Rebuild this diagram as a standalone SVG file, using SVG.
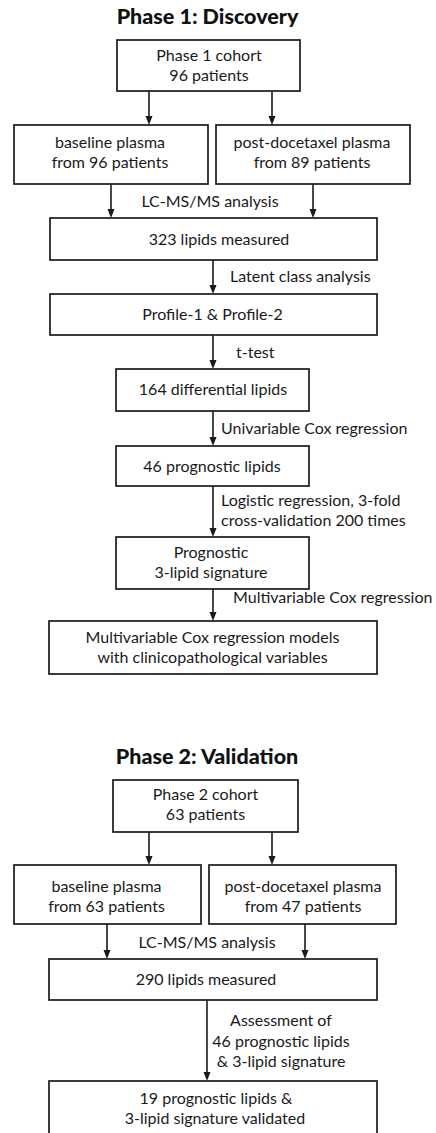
<svg xmlns="http://www.w3.org/2000/svg" width="436" height="1133" viewBox="0 0 436 1133">
<defs>
<marker id="ah" markerUnits="userSpaceOnUse" markerWidth="9" markerHeight="8" refX="4" refY="4" orient="auto">
<path d="M0,0.5 L9,4 L0,7.5 z" fill="#1a1a1a"/>
</marker>
</defs>
<style>
.box{fill:#fff;stroke:#1a1a1a;stroke-width:1.7}
.t{font-family:Lato,"Liberation Sans",sans-serif;font-size:16px;fill:#1a1a1a;text-anchor:middle}
.l{font-family:Lato,"Liberation Sans",sans-serif;font-size:16px;fill:#1a1a1a}
.h{font-family:Lato,"Liberation Sans",sans-serif;font-size:21.5px;font-weight:900;fill:#111;text-anchor:middle}
.c line{stroke:#1a1a1a;stroke-width:1.6;marker-end:url(#ah)}
</style>
<rect width="436" height="1133" fill="#fff"/>

<text class="h" x="207.5" y="24">Phase 1: Discovery</text>
<text class="h" x="207" y="764">Phase 2: Validation</text>

<g class="c" id="connectors">
<line x1="149" y1="91" x2="149" y2="120"/>
<line x1="272" y1="91" x2="272" y2="120"/>
<line x1="111" y1="184" x2="111" y2="213"/>
<line x1="313" y1="184" x2="313" y2="213"/>
<line x1="213" y1="260" x2="213" y2="289"/>
<line x1="213" y1="335" x2="213" y2="364"/>
<line x1="213" y1="411" x2="213" y2="441"/>
<line x1="213" y1="486" x2="213" y2="532"/>
<line x1="213" y1="589" x2="213" y2="616"/>
<line x1="149" y1="832" x2="149" y2="860"/>
<line x1="272" y1="832" x2="272" y2="860"/>
<line x1="107" y1="924" x2="107" y2="954"/>
<line x1="305" y1="924" x2="305" y2="954"/>
<line x1="207" y1="1000" x2="207" y2="1076"/>
</g>

<g id="labels">
<text class="t" x="210" y="207">LC-MS/MS analysis</text>
<text class="l" x="230" y="282">Latent class analysis</text>
<text class="l" x="236" y="358">t-test</text>
<text class="l" x="221" y="434">Univariable Cox regression</text>
<text class="l" x="221" y="506">Logistic regression, 3-fold</text>
<text class="l" x="221" y="526">cross-validation 200 times</text>
<text class="l" x="233" y="603">Multivariable Cox regression</text>
<text class="t" x="207" y="948">LC-MS/MS analysis</text>
<text class="t" x="281" y="1026">Assessment of</text>
<text class="t" x="281" y="1046.5">46 prognostic lipids</text>
<text class="t" x="281" y="1067">&amp; 3-lipid signature</text>
</g>

<g id="p1-cohort"><rect class="box" x="117" y="40" width="183" height="51"/>
<text class="t" x="209" y="61">Phase 1 cohort</text><text class="t" x="209" y="81">96 patients</text></g>
<g id="p1-baseline"><rect class="box" x="14" y="125" width="194" height="59"/>
<text class="t" x="110" y="148">baseline plasma</text><text class="t" x="110" y="168">from 96 patients</text></g>
<g id="p1-post"><rect class="box" x="216" y="125" width="194" height="59"/>
<text class="t" x="312" y="148">post-docetaxel plasma</text><text class="t" x="312" y="168">from 89 patients</text></g>
<g id="p1-measured"><rect class="box" x="50" y="218" width="327" height="42"/>
<text class="t" x="219" y="245">323 lipids measured</text></g>
<g id="p1-profile"><rect class="box" x="50" y="294" width="327" height="41"/>
<text class="t" x="212.5" y="320">Profile-1 &amp; Profile-2</text></g>
<g id="p1-diff"><rect class="box" x="116" y="369" width="193" height="42"/>
<text class="t" x="213" y="395">164 differential lipids</text></g>
<g id="p1-prog"><rect class="box" x="116" y="446" width="193" height="40"/>
<text class="t" x="212" y="472">46 prognostic lipids</text></g>
<g id="p1-sig"><rect class="box" x="116" y="537" width="193" height="52"/>
<text class="t" x="211" y="558">Prognostic</text><text class="t" x="211" y="578">3-lipid signature</text></g>
<g id="p1-models"><rect class="box" x="49" y="621" width="328" height="53"/>
<text class="t" x="212.5" y="643">Multivariable Cox regression models</text><text class="t" x="212.5" y="663">with clinicopathological variables</text></g>

<g id="p2-cohort"><rect class="box" x="113" y="780" width="185" height="52"/>
<text class="t" x="205.5" y="800">Phase 2 cohort</text><text class="t" x="205.5" y="820">63 patients</text></g>
<g id="p2-baseline"><rect class="box" x="14" y="865" width="187" height="59"/>
<text class="t" x="106.5" y="892">baseline plasma</text><text class="t" x="106.5" y="912">from 63 patients</text></g>
<g id="p2-post"><rect class="box" x="209" y="865" width="187" height="59"/>
<text class="t" x="303" y="892">post-docetaxel plasma</text><text class="t" x="303" y="912">from 47 patients</text></g>
<g id="p2-measured"><rect class="box" x="49" y="959" width="328" height="41"/>
<text class="t" x="206" y="985">290 lipids measured</text></g>
<g id="p2-validated"><rect class="box" x="49" y="1081" width="328" height="70"/>
<text class="t" x="216" y="1104">19 prognostic lipids &amp;</text><text class="t" x="215" y="1124">3-lipid signature validated</text></g>
</svg>
